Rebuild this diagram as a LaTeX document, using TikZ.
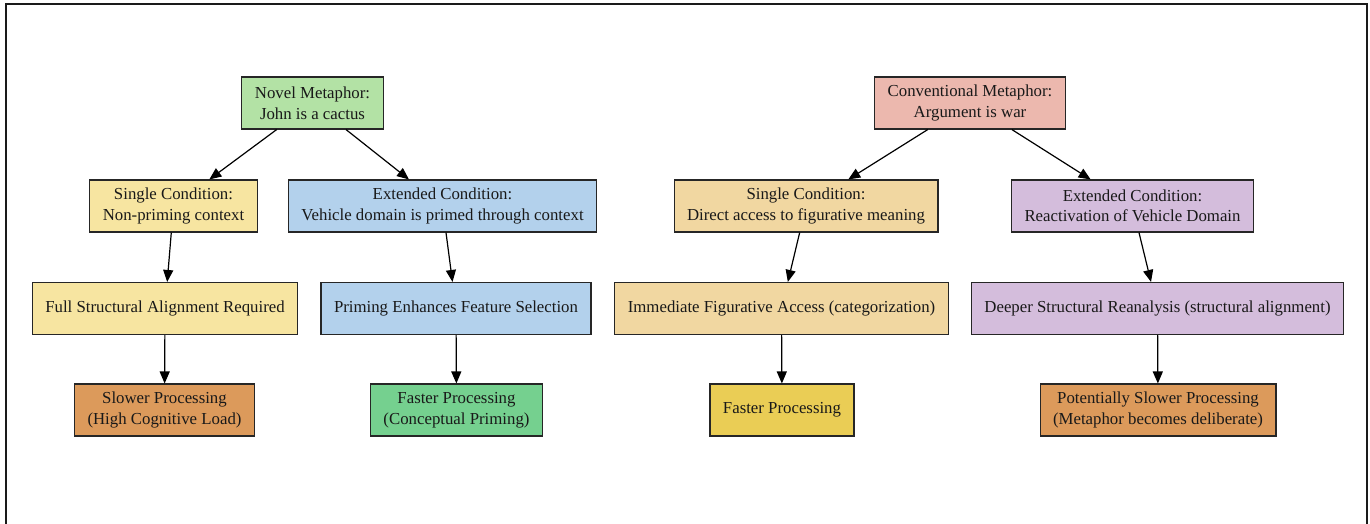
\documentclass[tikz,border=0pt]{standalone}
\usepackage{fontspec}
\setmainfont{Liberation Serif}
\usetikzlibrary{arrows.meta}

\definecolor{novelgreen}{HTML}{B3E2A5}
\definecolor{paleyellow}{HTML}{F7E5A1}
\definecolor{paleblue}{HTML}{B3D1EC}
\definecolor{burntorange}{HTML}{DC9A5B}
\definecolor{mintgreen}{HTML}{75D08F}
\definecolor{salmonpink}{HTML}{ECB8AE}
\definecolor{tan}{HTML}{F1D7A1}
\definecolor{lavender}{HTML}{D4BDDC}
\definecolor{gold}{HTML}{EACD55}
\definecolor{framegray}{HTML}{1A1A1A}

\tikzset{
  box/.style={draw=black!85, line width=1.1pt, rectangle, align=center,
    font=\fontsize{16.8}{20.5}\selectfont, text=black!90,
    minimum height=52pt, inner xsep=13pt, inner ysep=0pt},
  link/.style={draw=black, line width=1.2pt,
    -{Triangle[length=12pt,width=10pt]}}
}

\begin{document}
\begin{tikzpicture}[x=1pt,y=-1pt]
\useasboundingbox (0,0) rectangle (1370,523);
% outer frame, open at the bottom
\draw[framegray, line width=2pt] (5.5,530) -- (5.5,3.5) -- (1366.5,3.5) -- (1366.5,530);

% novel metaphor branch
\node[box, fill=novelgreen] (novel) at (312.5,103)
  {Novel Metaphor:\\John is a cactus};
\node[box, fill=paleyellow] (nsingle) at (173.5,206)
  {Single Condition:\\Non-priming context};
\node[box, fill=paleblue] (nextended) at (442.5,206)
  {Extended Condition:\\Vehicle domain is primed through context};
\node[box, fill=paleyellow] (nalign) at (165,308.5)
  {Full Structural Alignment Required};
\node[box, fill=paleblue] (nprime) at (456,308.5)
  {Priming Enhances Feature Selection};
\node[box, fill=burntorange] (nslow) at (164.5,410)
  {Slower Processing\\(High Cognitive Load)};
\node[box, fill=mintgreen] (nfast) at (456.5,410)
  {Faster Processing\\(Conceptual Priming)};

% conventional metaphor branch
\node[box, fill=salmonpink] (conv) at (970,103)
  {Conventional Metaphor:\\Argument is war};
\node[box, fill=tan] (csingle) at (806,206)
  {Single Condition:\\Direct access to figurative meaning};
\node[box, fill=lavender] (cextended) at (1132.5,206)
  {Extended Condition:\\Reactivation of Vehicle Domain};
\node[box, fill=tan] (cimmediate) at (781.5,308.5)
  {Immediate Figurative Access (categorization)};
\node[box, fill=lavender] (cdeeper) at (1157.5,308.5)
  {Deeper Structural Reanalysis (structural alignment)};
\node[box, fill=gold] (cfast) at (782,410)
  {Faster Processing};
\node[box, fill=burntorange] (cslow) at (1158,410)
  {Potentially Slower Processing\\(Metaphor becomes deliberate)};

% connectors
\draw[link] (novel) -- (nsingle);
\draw[link] (novel) -- (nextended);
\draw[link] (nsingle) -- (nalign);
\draw[link] (nextended) -- (nprime);
\draw[link] (nalign) -- (nslow);
\draw[link] (nprime) -- (nfast);
\draw[link] (conv) -- (csingle);
\draw[link] (conv) -- (cextended);
\draw[link] (csingle) -- (cimmediate);
\draw[link] (cextended) -- (cdeeper);
\draw[link] (cimmediate) -- (cfast);
\draw[link] (cdeeper) -- (cslow);
\end{tikzpicture}
\end{document}
